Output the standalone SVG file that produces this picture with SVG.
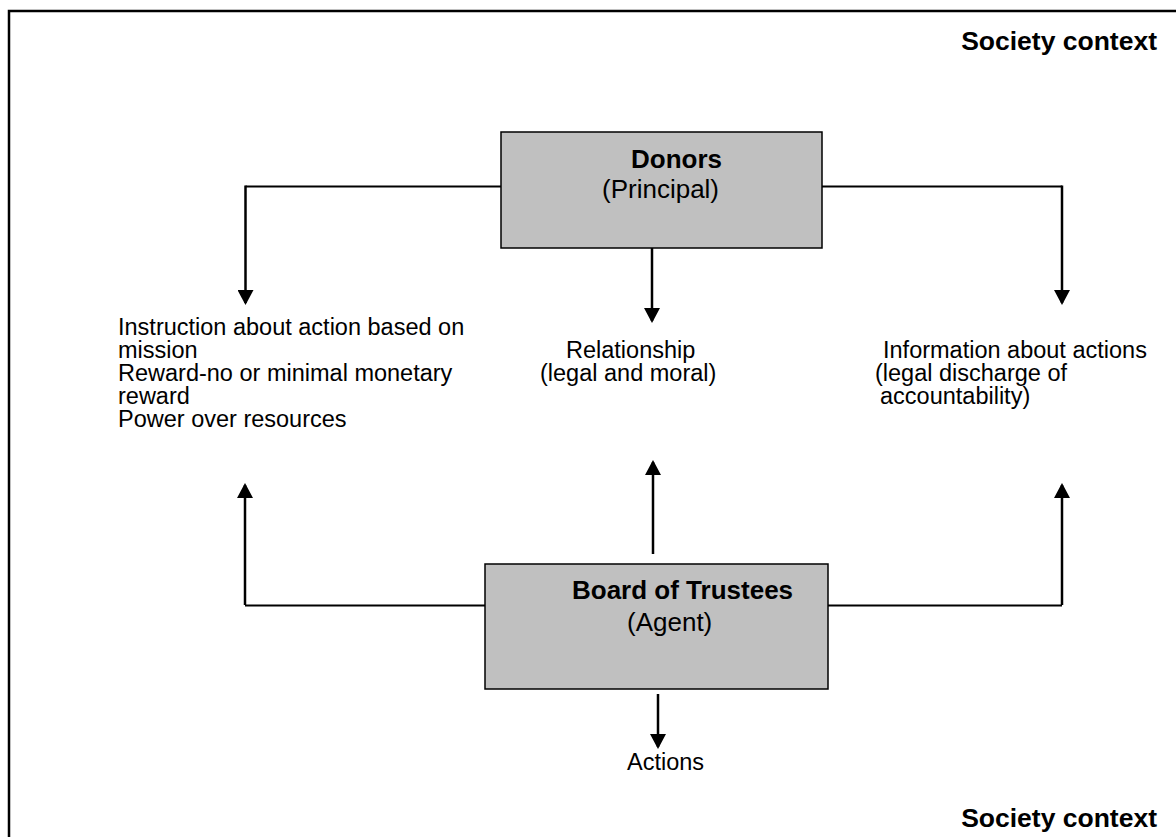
<svg xmlns="http://www.w3.org/2000/svg" width="1176" height="837" viewBox="0 0 1176 837">
<defs>
<marker id="ah" markerUnits="userSpaceOnUse" markerWidth="16" markerHeight="16" refX="13" refY="8" orient="auto">
<path d="M0,0 L15,8 L0,16 z" fill="#000"/>
</marker>
<style>
text{font-family:"Liberation Sans",Arial,sans-serif;fill:#000}
.node{font-size:26px}
.b{font-weight:bold}
.body{font-size:23.5px}
.ctx{font-size:26.5px;font-weight:bold;text-anchor:end}
.box{fill:#c0c0c0;stroke:#000;stroke-width:1.5}
.h{fill:none;stroke:#000;stroke-width:2}
.v{fill:none;stroke:#000;stroke-width:2.5;marker-end:url(#ah)}
</style>
</defs>
<rect width="1176" height="837" fill="#fff"/>
<path d="M9,837 V11 H1176" fill="none" stroke="#000" stroke-width="2.5"/>
<g id="context-top"><text class="ctx" x="1157" y="50">Society context</text></g>
<g id="context-bottom"><text class="ctx" x="1157" y="827">Society context</text></g>
<g id="connectors">
<path class="h" d="M501,186.5 H245.5"/>
<path class="v" d="M245.5,185.5 V303"/>
<path class="h" d="M822,186.5 H1062"/>
<path class="v" d="M1062,185.5 V303"/>
<path class="v" d="M652,247 V321"/>
<path class="h" d="M485,605.5 H245"/>
<path class="v" d="M245,605 V485"/>
<path class="h" d="M828,605.5 H1062"/>
<path class="v" d="M1062,605 V485"/>
<path class="v" d="M653,554 V462"/>
<path class="v" d="M658,694 V747"/>
</g>
<g id="donors">
<rect class="box" x="501" y="132" width="321" height="116"/>
<text class="node b" x="631" y="168">Donors</text>
<text class="node" x="602" y="198">(Principal)</text>
</g>
<g id="board">
<rect class="box" x="485" y="564" width="343" height="125"/>
<text class="node b" x="572" y="599">Board of Trustees</text>
<text class="node" x="627" y="631">(Agent)</text>
</g>
<g id="instruction">
<text class="body" x="118" y="335">Instruction about action based on</text>
<text class="body" x="118" y="358">mission</text>
<text class="body" x="118" y="381">Reward-no or minimal monetary</text>
<text class="body" x="118" y="404">reward</text>
<text class="body" x="118" y="427">Power over resources</text>
</g>
<g id="relationship">
<text class="body" x="566" y="358">Relationship</text>
<text class="body" x="540" y="381">(legal and moral)</text>
</g>
<g id="information">
<text class="body" x="883" y="358">Information about actions</text>
<text class="body" x="875" y="381">(legal discharge of</text>
<text class="body" x="880" y="404">accountability)</text>
</g>
<g id="actions"><text class="body" x="627" y="770">Actions</text></g>
</svg>
